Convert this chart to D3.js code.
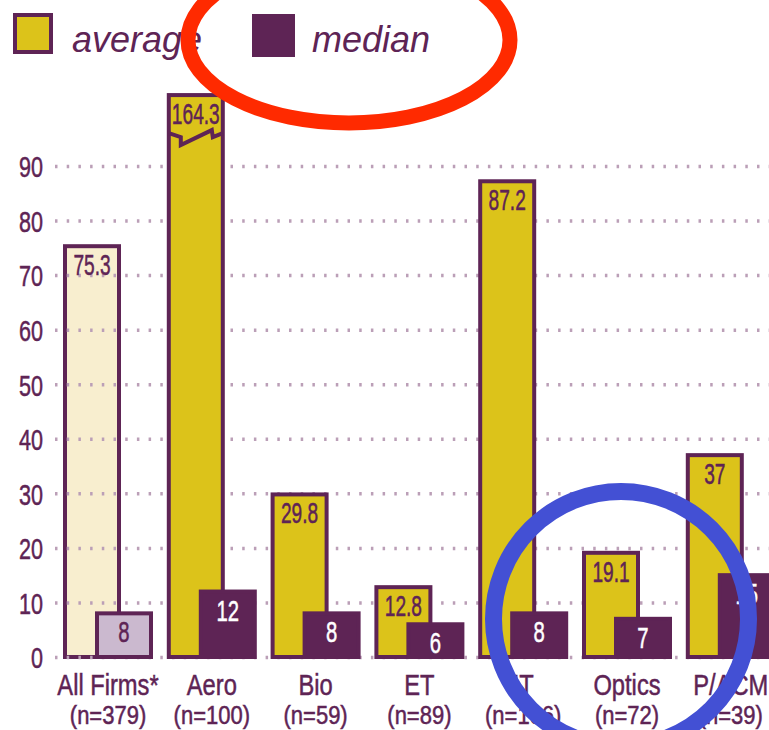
<!DOCTYPE html>
<html>
<head>
<meta charset="utf-8">
<script src="https://cdn.jsdelivr.net/npm/d3@7"></script>
<style>
  html, body { margin: 0; padding: 0; background: #ffffff; }
  svg { display: block; }
</style>
</head>
<body>
<svg id="chart" width="769" height="730"></svg>
<script>
// Firm groups, sample sizes and the two series
const categories = ["All Firms*", "Aero", "Bio", "ET", "IT", "Optics", "P/ACM"];
const sampleSizes = ["(n=379)", "(n=100)", "(n=59)", "(n=89)", "(n=106)", "(n=72)", "(n=39)"];
const averageValues = [75.3, 164.3, 29.8, 12.8, 87.2, 19.1, 37];
const medianValues = [8, 12, 8, 6, 8, 7, 15];
const yTicks = [0, 10, 20, 30, 40, 50, 60, 70, 80, 90];
const seriesNames = ["average", "median"];

const PURPLE = "#5e2455";
const YELLOW = "#dcc31a";
const CREAM = "#f8eecf";
const LAVENDER = "#cbb9cf";
const GRID = "#bb9fb7";
const FONT = "'Liberation Sans', Arial, sans-serif";
const BREAK_AT = 103;        // values above this are drawn with a broken bar

const svg = d3.select("#chart");

const x = d3.scaleBand().domain(categories).range([63, 63 + 7 * 103.8]);
const y = d3.scaleLinear().domain([0, 90]).range([657, 166]);

const barW = 54, medOffset = 32, sw = 4;

// Narrow, slightly heavy label text
function condensedText(g, tx, ty, str, size, fill, squeeze) {
  return g.append("text")
    .attr("transform", `translate(${tx},${ty}) scale(${squeeze},1)`)
    .attr("text-anchor", "middle")
    .attr("font-family", FONT)
    .attr("font-size", size)
    .attr("fill", fill)
    .attr("stroke", fill)
    .attr("stroke-width", 0.5)
    .text(str);
}

// Bar for the all-firms average sits under the dotted grid
const under = svg.append("g");
const over = svg.append("g");

// Dotted gridlines with the y axis labels
const axis = d3.axisLeft(y).tickValues(yTicks).tickSize(-(769 - 55)).tickPadding(0);
const axisG = svg.append("g").attr("transform", "translate(55,0)").call(axis);
axisG.select(".domain").remove();
axisG.selectAll(".tick line")
  .attr("stroke", GRID)
  .attr("stroke-width", 3.5)
  .attr("stroke-dasharray", "2.5 9.2");
axisG.selectAll(".tick text")
  .attr("font-family", FONT)
  .attr("font-size", 30)
  .attr("fill", PURPLE)
  .attr("stroke", PURPLE)
  .attr("stroke-width", 0.5)
  .attr("x", -12 / 0.72)
  .attr("dy", "0.36em")
  .attr("transform", "scale(0.72,1)");

// Put the bar layer above the grid, except the first average bar
svg.node().appendChild(over.node());

categories.forEach((c, i) => {
  const x0 = x(c);
  const avg = averageValues[i];
  const shown = Math.min(avg, BREAK_AT);
  const topA = y(shown);
  const gA = i === 0 ? under : over;

  gA.append("rect")
    .attr("x", x0 + sw / 2).attr("y", topA)
    .attr("width", barW).attr("height", y(0) - topA)
    .attr("fill", i === 0 ? CREAM : YELLOW)
    .attr("stroke", PURPLE).attr("stroke-width", sw);

  if (avg > BREAK_AT) {
    // axis-break zigzag across the clipped bar
    const l = x0 + sw / 2;
    const pts = [[l, topA + 38], [l + 12, topA + 42], [l + 12, topA + 50],
                 [l + 43, topA + 35], [l + 44, topA + 42], [l + barW, topA + 38]];
    over.append("path")
      .attr("d", d3.line()(pts))
      .attr("fill", "none").attr("stroke", PURPLE).attr("stroke-width", 4)
      .attr("stroke-linejoin", "miter");
  }
  condensedText(over, x0 + sw / 2 + barW / 2, topA + 29, String(avg), 29, PURPLE, 0.66);

  const med = medianValues[i];
  const topM = y(med);
  over.append("rect")
    .attr("x", x0 + sw / 2 + medOffset).attr("y", topM)
    .attr("width", barW).attr("height", y(0) - topM)
    .attr("fill", i === 0 ? LAVENDER : PURPLE)
    .attr("stroke", PURPLE).attr("stroke-width", sw);
  condensedText(over, x0 + sw / 2 + medOffset + barW / 2, topM + 29, String(med), 29,
    i === 0 ? PURPLE : "#ffffff", 0.7);

  // category and sample size labels
  condensedText(over, x0 + 45, 695, c, 30, PURPLE, 0.79);
  condensedText(over, x0 + 45, 724, sampleSizes[i], 25, PURPLE, 0.88);
});

// Legend
const legend = svg.append("g");
legend.append("rect").attr("x", 15).attr("y", 15).attr("width", 36).attr("height", 37)
  .attr("fill", YELLOW).attr("stroke", PURPLE).attr("stroke-width", sw);
legend.append("text").attr("x", 72).attr("y", 52)
  .attr("font-family", FONT).attr("font-style", "italic").attr("font-size", 36)
  .attr("fill", PURPLE).text(seriesNames[0]);
legend.append("rect").attr("x", 252).attr("y", 14).attr("width", 43).attr("height", 43)
  .attr("fill", PURPLE);
legend.append("text").attr("x", 312).attr("y", 52)
  .attr("font-family", FONT).attr("font-style", "italic").attr("font-size", 36)
  .attr("fill", PURPLE).text(seriesNames[1]);

// Hand-drawn highlight marks
svg.append("ellipse")
  .attr("cx", 349).attr("cy", 40).attr("rx", 161).attr("ry", 83)
  .attr("fill", "none").attr("stroke", "#ff2a00").attr("stroke-width", 15);
svg.append("circle")
  .attr("cx", 621).attr("cy", 619).attr("r", 127.5)
  .attr("fill", "none").attr("stroke", "#4350d4").attr("stroke-width", 17);
</script>
</body>
</html>
